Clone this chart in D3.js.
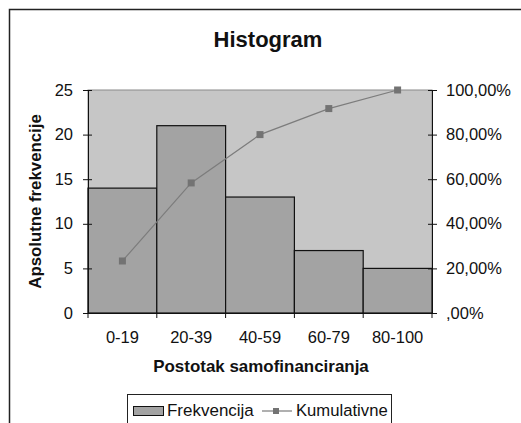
<!DOCTYPE html>
<html>
<head>
<meta charset="utf-8">
<script src="https://cdn.jsdelivr.net/npm/d3@7"></script>
<style>
    body { margin: 0; background: #fff; }
    svg { display: block; font-family: "Liberation Sans", Arial, sans-serif; }
</style>
</head>
<body>
<script>
// data
var categories = ["0-19", "20-39", "40-59", "60-79", "80-100"];
var frekvencija = [14, 21, 13, 7, 5];
var kumulativne = [0.2333, 0.5833, 0.80, 0.9167, 1.0];
var yTicks = [0, 5, 10, 15, 20, 25];
var y2Ticks = [0, 0.2, 0.4, 0.6, 0.8, 1.0];
var seriesNames = ["Frekvencija", "Kumulativne"];

// the reference text is a bit wider than Arial, stretch it horizontally
function stretch(sel, k) {
    sel.each(function() {
        var t = d3.select(this);
        var x = +t.attr("x") || 0;
        t.attr("transform", "translate(" + x + ",0) scale(" + k + ",1) translate(" + (-x) + ",0)");
    });
}

function init() {
    var W = 521, H = 423;
    var plot = { left: 88, top: 90, right: 432, bottom: 313 };

    var barColor = "#a3a3a3";
    var bgColor = "#c6c6c6";
    var lineColor = "#7c7c7c";
    var markerColor = "#737373";

    var svg = d3.select("body")
        .append("svg")
        .attr("width", W)
        .attr("height", H);

    // outer chart border (only top and left visible)
    svg.append("rect")
        .attr("x", 9.5)
        .attr("y", 9.5)
        .attr("width", 700)
        .attr("height", 700)
        .attr("fill", "#fff")
        .attr("stroke", "#222")
        .attr("stroke-width", 1.5);

    // scales
    var xScale = d3.scaleBand()
        .domain(categories)
        .range([plot.left, plot.right])
        .padding(0);

    var yScale = d3.scaleLinear()
        .domain([0, 25])
        .range([plot.bottom, plot.top]);

    var y2Scale = d3.scaleLinear()
        .domain([0, 1])
        .range([plot.bottom, plot.top]);

    // plot background
    svg.append("rect")
        .attr("x", plot.left)
        .attr("y", plot.top)
        .attr("width", plot.right - plot.left)
        .attr("height", plot.bottom - plot.top)
        .attr("fill", bgColor)
        .attr("stroke", "#8a8a8a")
        .attr("stroke-width", 1);

    // bars
    svg.selectAll("rect.bar")
        .data(frekvencija)
        .enter()
        .append("rect")
        .attr("class", "bar")
        .attr("x", function(d, i) { return xScale(categories[i]); })
        .attr("y", function(d) { return yScale(d); })
        .attr("width", xScale.bandwidth())
        .attr("height", function(d) { return plot.bottom - yScale(d); })
        .attr("fill", barColor)
        .attr("stroke", "#111")
        .attr("stroke-width", 1.2);

    // left axis
    var yAxis = svg.append("g")
        .attr("transform", "translate(" + plot.left + ",0)")
        .call(d3.axisLeft(yScale).tickValues(yTicks).tickSize(5).tickSizeOuter(0).tickPadding(10));
    yAxis.selectAll(".tick line").attr("x1", 4);

    // right axis
    var y2Axis = svg.append("g")
        .attr("transform", "translate(" + plot.right + ",0)")
        .call(d3.axisRight(y2Scale).tickValues(y2Ticks).tickSize(5).tickSizeOuter(0).tickPadding(9)
            .tickFormat(function(d) {
                return d === 0 ? ",00%" : (d * 100).toFixed(2).replace(".", ",") + "%";
            }));
    y2Axis.selectAll(".tick line").attr("x1", -4);

    // bottom axis (labels at band centres, ticks at band edges)
    var xAxis = svg.append("g")
        .attr("transform", "translate(0," + plot.bottom + ")")
        .call(d3.axisBottom(xScale).tickSize(0).tickSizeOuter(0).tickPadding(18.5));

    var edges = categories.map(function(c) { return xScale(c); });
    edges.push(xScale(categories[categories.length - 1]) + xScale.bandwidth());
    xAxis.selectAll("line.edge")
        .data(edges)
        .enter()
        .append("line")
        .attr("class", "edge")
        .attr("x1", function(d) { return d; })
        .attr("x2", function(d) { return d; })
        .attr("y1", 0)
        .attr("y2", 5)
        .attr("stroke", "#111");

    svg.selectAll(".tick text")
        .attr("font-size", 16)
        .attr("font-family", "Liberation Sans, Arial, sans-serif")
        .attr("fill", "#111")
        .call(stretch, 1.03);
    svg.selectAll(".domain, .tick line").attr("stroke", "#111");

    // cumulative line
    var line = d3.line()
        .x(function(d, i) { return xScale(categories[i]) + xScale.bandwidth() / 2; })
        .y(function(d) { return y2Scale(d); });

    svg.append("path")
        .datum(kumulativne)
        .attr("d", line)
        .attr("fill", "none")
        .attr("stroke", lineColor)
        .attr("stroke-width", 1.2);

    svg.selectAll("rect.marker")
        .data(kumulativne)
        .enter()
        .append("rect")
        .attr("class", "marker")
        .attr("x", function(d, i) { return xScale(categories[i]) + xScale.bandwidth() / 2 - 3.5; })
        .attr("y", function(d) { return y2Scale(d) - 3.5; })
        .attr("width", 7)
        .attr("height", 7)
        .attr("fill", markerColor);

    // titles
    svg.append("text")
        .attr("x", 268)
        .attr("y", 47)
        .attr("text-anchor", "middle")
        .attr("font-size", 22)
        .attr("font-weight", "bold")
        .attr("fill", "#111")
        .text("Histogram");

    svg.append("text")
        .attr("x", (plot.left + plot.right) / 2 + 1)
        .attr("y", 372)
        .attr("text-anchor", "middle")
        .attr("font-size", 16)
        .attr("font-weight", "bold")
        .attr("fill", "#111")
        .text("Postotak samofinanciranja")
        .call(stretch, 1.06);

    svg.append("text")
        .attr("transform", "translate(41," + (plot.top + plot.bottom) / 2 + ") rotate(-90) scale(1.05,1)")
        .attr("text-anchor", "middle")
        .attr("font-size", 16)
        .attr("font-weight", "bold")
        .attr("fill", "#111")
        .text("Apsolutne frekvencije");

    // legend
    var legend = svg.append("g");
    legend.append("rect")
        .attr("x", 127.5)
        .attr("y", 394.5)
        .attr("width", 264)
        .attr("height", 60)
        .attr("fill", "#fff")
        .attr("stroke", "#222")
        .attr("stroke-width", 1);

    legend.append("rect")
        .attr("x", 133.5)
        .attr("y", 406.5)
        .attr("width", 30)
        .attr("height", 9)
        .attr("fill", barColor)
        .attr("stroke", "#111");

    legend.append("text")
        .attr("x", 167)
        .attr("y", 416.5)
        .attr("font-size", 16.5)
        .attr("fill", "#111")
        .text(seriesNames[0])
        .call(stretch, 1.03);

    legend.append("line")
        .attr("x1", 262)
        .attr("x2", 292)
        .attr("y1", 411)
        .attr("y2", 411)
        .attr("stroke", lineColor)
        .attr("stroke-width", 1.2);

    legend.append("rect")
        .attr("x", 273)
        .attr("y", 408)
        .attr("width", 6)
        .attr("height", 6)
        .attr("fill", markerColor);

    legend.append("text")
        .attr("x", 296)
        .attr("y", 416.5)
        .attr("font-size", 16.5)
        .attr("fill", "#111")
        .text(seriesNames[1])
        .call(stretch, 1.01);
}

window.onload = init;
</script>
</body>
</html>
